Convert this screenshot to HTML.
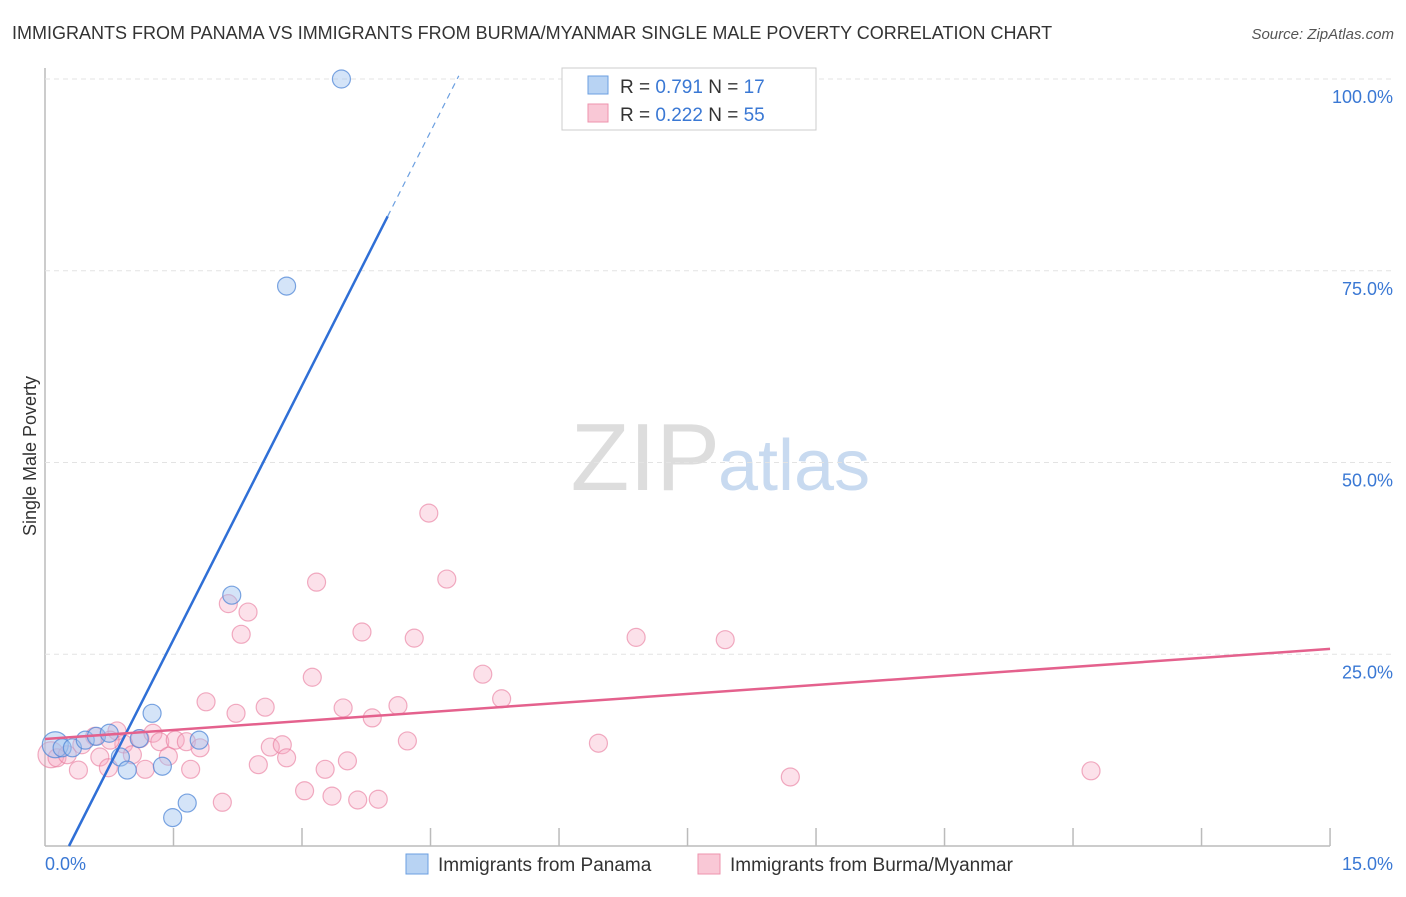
<!DOCTYPE html>
<html><head><meta charset="utf-8"><style>
body{margin:0;background:#fff;font-family:"Liberation Sans",sans-serif;}
svg text{font-family:"Liberation Sans",sans-serif;}
</style></head><body>
<svg id="c" width="1406" height="892">
<text x="12" y="39" font-size="18" fill="#333">IMMIGRANTS FROM PANAMA VS IMMIGRANTS FROM BURMA/MYANMAR SINGLE MALE POVERTY CORRELATION CHART</text>
<text x="1394" y="39" font-size="15" fill="#555" font-style="italic" text-anchor="end">Source: ZipAtlas.com</text>
<text x="36" y="456" font-size="18" fill="#333" transform="rotate(-90 36 456)" text-anchor="middle">Single Male Poverty</text>
<text x="720" y="490" font-size="96" fill="#ddd" text-anchor="end" font-family="Liberation Serif">ZIP</text>
<text x="718" y="490" font-size="72" fill="#c8daf0">atlas</text>
<g id="grid"></g><g id="marks"></g>
<g>
<rect x="562" y="68" width="254" height="62" fill="#fff" stroke="#ccc"/>
<rect x="588" y="76" width="20" height="18" fill="#b8d3f3" stroke="#6b9fe0"/>
<rect x="588" y="104" width="20" height="18" fill="#f9c8d6" stroke="#ee93ad"/>
<text x="620" y="93" font-size="19" fill="#333">R = <tspan fill="#3a78d4">0.791</tspan>   N = <tspan fill="#3a78d4">17</tspan></text>
<text x="620" y="121" font-size="19" fill="#333">R = <tspan fill="#3a78d4">0.222</tspan>   N = <tspan fill="#3a78d4">55</tspan></text>
</g>
<g>
<rect x="406" y="854" width="22" height="20" fill="#b8d3f3" stroke="#6b9fe0"/>
<text x="438" y="871" font-size="19" fill="#333">Immigrants from Panama</text>
<rect x="698" y="854" width="22" height="20" fill="#f9c8d6" stroke="#ee93ad"/>
<text x="730" y="871" font-size="19" fill="#333">Immigrants from Burma/Myanmar</text>
</g>
</svg>
<script>
const blueX=[3.46,2.82,2.18,1.25,0.12,0.20,0.32,0.47,0.60,0.75,0.88,1.10,0.96,1.37,1.80,1.66,1.49];
const blueY=[100,73.0,32.7,17.3,13.2,12.8,12.8,13.8,14.3,14.7,11.6,14.0,9.9,10.4,13.8,5.6,3.7];
const pinkX=[0.07,0.14,0.26,0.39,0.58,0.64,0.74,0.84,0.92,1.02,1.11,1.17,1.26,1.34,1.44,1.52,1.65,1.70,1.81,1.88,2.07,2.14,2.23,2.29,2.37,2.49,2.57,2.63,2.77,2.82,3.03,3.12,3.17,3.27,3.35,3.48,3.53,3.65,3.70,3.82,3.89,4.12,4.23,4.31,4.48,4.69,5.11,5.33,6.46,6.90,7.94,8.70,12.21,0.43,0.76];
const pinkY=[11.9,11.5,11.9,9.9,14.3,11.6,10.2,15.0,13.3,11.9,14.0,10.0,14.7,13.6,11.7,13.8,13.6,10.0,12.8,18.8,5.7,31.6,17.3,27.6,30.5,10.6,18.1,12.9,13.2,11.5,7.2,22.0,34.4,10.0,6.5,18.0,11.1,6.0,27.9,16.7,6.1,18.3,13.7,27.1,43.4,34.8,22.4,19.2,13.4,27.2,26.9,9.0,9.8,13.2,13.8];
const yTicks=[25,50,75,100];
const yTickLabels=["25.0%","50.0%","75.0%","100.0%"];
const xTickCount=10;
const blueTrend=[-6.18,22.07];
const pinkTrend=[13.95,0.783];
const NS="http://www.w3.org/2000/svg";
const X=v=>45+v*85.67, Y=v=>846-v*7.67;
function mk(t,a,p){const e=document.createElementNS(NS,t);for(const k in a)e.setAttribute(k,a[k]);p.appendChild(e);return e;}
const grid=document.getElementById('grid'), marks=document.getElementById('marks');
let ax=mk('line',{x1:45,y1:68,x2:45,y2:846,stroke:'#bbb','stroke-width':1.5},grid);

let bx=mk('line',{x1:45,y1:846,x2:1330,y2:846,stroke:'#bbb','stroke-width':1.5},grid);

yTicks.forEach((t,i)=>{
 const g=mk('line',{x1:45,y1:Y(t),x2:1394,y2:Y(t),stroke:'#e3e3e3','stroke-dasharray':'5,4'},grid);
 
 const l=mk('text',{x:1393,y:Y(t)+24,'font-size':18,fill:'#3a78d4','text-anchor':'end'},grid);l.textContent=yTickLabels[i];
 
});
for(let i=1;i<=xTickCount;i++){const x=X(i*1.5);const t=mk('line',{x1:x,y1:828,x2:x,y2:846,stroke:'#bbb','stroke-width':1.5},grid);
 }
let l0=mk('text',{x:45,y:870,'font-size':18,fill:'#3a78d4'},grid);l0.textContent='0.0%';

let l1=mk('text',{x:1393,y:870,'font-size':18,fill:'#3a78d4','text-anchor':'end'},grid);l1.textContent='15.0%';

pinkX.forEach((x,i)=>{const c=mk('circle',{cx:X(x),cy:Y(pinkY[i]),r:i==0?13:9,fill:'rgba(246,170,195,0.35)',stroke:'rgba(232,120,155,0.6)','stroke-width':1.2},marks);
 });
blueX.forEach((x,i)=>{const c=mk('circle',{cx:X(x),cy:Y(blueY[i]),r:i==4?13:9,fill:'rgba(160,195,240,0.45)',stroke:'rgba(80,135,215,0.75)','stroke-width':1.2},marks);
 });
const bx0=-blueTrend[0]/blueTrend[1], bx1=4.0, bx2=4.83;
let t1=mk('line',{x1:X(bx0),y1:Y(0),x2:X(bx1),y2:Y(blueTrend[0]+blueTrend[1]*bx1),stroke:'#2f6fd6','stroke-width':2.5},marks);

let t2=mk('line',{x1:X(bx1),y1:Y(blueTrend[0]+blueTrend[1]*bx1),x2:X(bx2),y2:Y(blueTrend[0]+blueTrend[1]*bx2),stroke:'#6b9fe0','stroke-width':1.2,'stroke-dasharray':'6,5'},marks);

let t3=mk('line',{x1:X(0),y1:Y(pinkTrend[0]),x2:X(15),y2:Y(pinkTrend[0]+pinkTrend[1]*15),stroke:'#e4618d','stroke-width':2.5},marks);

</script>
</body></html>
